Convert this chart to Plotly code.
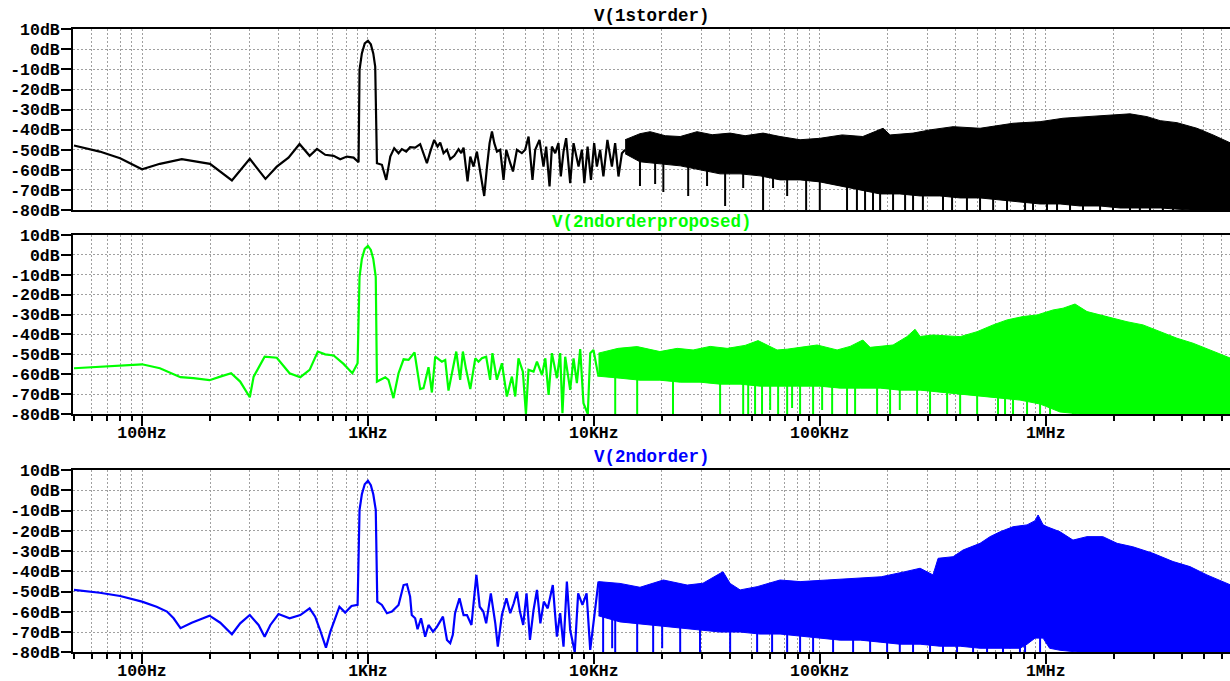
import math
import plotly.graph_objects as go

# ---------------- data (Hz, dB) ----------------
# Panel 1: V(1storder) - clean low-frequency trace
p1_line_f = [50, 65, 80, 100, 120, 150, 200, 250, 300, 352, 395, 445, 498, 552, 595, 647, 705, 754, 807, 864,
             909, 918, 940, 968, 1000, 1030, 1056, 1077, 1096, 1153, 1205, 1256, 1307, 1366, 1413, 1477, 1537, 1618,
             1703, 1762, 1824, 1888, 1965, 2033, 2089, 2161, 2238, 2313, 2411, 2518, 2588, 2650, 2760, 2838, 2934,
             3036, 3162, 3271, 3365, 3455, 3540, 3625, 3725, 3850, 3983, 4095, 4265, 4385, 4565, 4800, 4965, 5140,
             5350, 5500, 5745, 5985, 6150, 6365, 6520, 6745, 6970, 7140, 7340, 7540, 7855, 8130, 8555, 8850, 9075,
             9380, 9710, 10030, 10310, 10660, 11020, 11480, 12020, 12420, 12850, 13310, 13750]
p1_line_db = [-47.9, -50.9, -54.2, -59.7, -57.0, -54.7, -57.0, -65.3, -54.5, -64.5, -58.4, -53.9, -47.1, -53.0,
              -49.6, -52.5, -53.0, -54.7, -53.4, -53.9, -56.2, -10.2, -2.0, 3.0, 4.3, 2.5, -2.0, -8.6, -56.7, -57.5,
              -65.0, -53.4, -49.2, -51.7, -49.7, -50.9, -48.7, -48.9, -47.2, -51.7, -56.7, -50.9, -45.1, -48.4,
              -46.4, -51.7, -50.0, -54.7, -53.0, -49.7, -51.7, -48.9, -65.8, -53.4, -58.4, -50.9, -63.3, -73.0,
              -58.4, -46.7, -40.9, -46.7, -50.9, -50.0, -65.0, -50.0, -56.7, -60.8, -50.0, -51.7, -50.0, -43.4,
              -65.0, -50.0, -45.1, -58.4, -48.4, -68.3, -48.4, -51.7, -46.7, -63.3, -50.9, -44.2, -66.6, -46.7,
              -58.4, -50.0, -66.6, -48.4, -65.0, -46.7, -58.4, -50.0, -63.3, -45.1, -58.4, -46.7, -63.3, -51.7, -50.0]
# Panel 1: dense noise region (upper / lower envelope) and downward spikes
p1_hi_f = [13750, 16000, 17750, 20700, 24100, 28600, 33400, 40100, 46700, 56100, 66700, 81800, 100000, 125600,
           155000, 190600, 204700, 258700, 307600, 389000, 512000, 716600, 944000, 1193000, 1523000, 1985000,
           2360000, 2806000, 3210000, 3810000, 4670000, 5500000, 6600000]
p1_hi_db = [-45, -42, -41, -43, -43.4, -41, -42.5, -41.7, -43, -41.7, -43.4, -45, -44.3, -42.6, -43.4, -39.3,
            -42.6, -41.7, -40.1, -38.5, -39.3, -36.8, -36, -34.3, -33.5, -32.6, -32.1, -33.5, -35.5, -36.5, -39.3,
            -42.6, -46.7]
p1_lo_f = [13750, 16000, 19600, 24100, 29500, 36200, 44400, 54400, 66700, 81800, 100000, 123000, 151000, 185000,
           226000, 278000, 340000, 418000, 512000, 628000, 769000, 944000, 1157000, 1419000, 1740000, 2130000,
           3210000, 4350000, 6600000]
p1_lo_db = [-52, -56, -57, -58, -60, -62, -62, -63, -65, -65, -66, -68, -70, -72, -72, -73, -73, -74, -74, -75,
            -76, -77, -77, -78, -78, -79, -79, -80, -80]
p1_spike_f = [16000, 18670, 20300, 26150, 31700, 38100, 45800, 56100, 62100, 71700, 87000, 100000, 132000, 146000,
              158600, 172000, 184900, 211000, 238500, 258700, 286000, 351000, 385000, 448000, 512000, 585000,
              674000, 810000, 878600, 1013000, 1122000, 1281000, 1462000, 1740000, 1985000, 2360000, 2610000,
              2893000, 3300000, 3660000]
p1_spike_db = [-68, -67, -71, -73, -68, -78, -69, -80, -69, -73, -80, -80, -80, -80, -80, -80, -80, -80, -80, -80,
               -80, -80, -80, -80, -80, -80, -80, -80, -80, -80, -80, -80, -80, -80, -80, -80, -80, -80, -80, -80]

# Panel 2: V(2ndorderproposed)
p2_line_f = [50, 65, 80, 100, 120, 148, 169, 199, 222, 248, 272, 300, 312, 349, 395, 450, 502, 552, 600, 647, 705,
             780, 853, 900, 918, 940, 968, 1000, 1030, 1056, 1083, 1096, 1193, 1233, 1297, 1366, 1438, 1513, 1608,
             1703, 1762, 1854, 1919, 1985, 2125, 2198, 2273, 2460, 2560, 2632, 2721, 2838, 2986, 3086, 3193, 3337,
             3474, 3556, 3722, 3917, 4121, 4337, 4488, 4637, 4850, 5004, 5137, 5408, 5600, 5894, 6097, 6305, 6520,
             6860, 7095, 7260, 7465, 7855, 8130, 8410, 8700, 8995, 9400, 9635, 9960, 10480]
p2_line_db = [-57.0, -56.2, -55.5, -55.0, -57.0, -61.5, -62.0, -63.0, -61.2, -59.5, -63.7, -71.6, -61.2, -51.2,
              -51.7, -59.5, -61.5, -57.8, -48.6, -50.0, -50.6, -54.8, -59.5, -54.5, -11.0, -2.0, 3.0, 4.5, 2.5,
              -2.0, -11.0, -63.7, -61.5, -62.8, -72.0, -59.5, -52.5, -52.8, -49.1, -67.5, -67.0, -56.5, -69.2,
              -51.2, -53.7, -52.8, -68.2, -48.6, -62.8, -48.6, -57.8, -67.5, -52.0, -53.7, -52.0, -51.2, -62.8,
              -49.4, -62.8, -54.5, -71.2, -61.2, -71.2, -52.0, -58.7, -80.0, -57.8, -58.7, -53.7, -60.4, -52.0,
              -70.4, -49.4, -62.0, -49.4, -79.6, -51.2, -67.9, -52.0, -64.5, -47.4, -74.6, -80.0, -49.4, -47.8, -61.2]
p2_hi_f = [10480, 12800, 15550, 19600, 23400, 27500, 32700, 38900, 46700, 53300, 64700, 71700, 81800, 97300,
           119300, 136200, 155000, 167000, 211000, 243000, 264000, 278000, 317000, 418000, 497000, 585000, 674000,
           793000, 915000, 1077000, 1193000, 1348000, 1523000, 1867000, 2289000, 2695000, 3210000, 3810000,
           4486000, 5330000, 6600000]
p2_hi_db = [-49.4, -47, -46.1, -48.6, -47, -47.8, -46, -47, -45.5, -43.1, -47.8, -47.4, -46.5, -45.3, -47.8, -46,
            -42.8, -46.5, -45.3, -41.1, -37.4, -41, -40.3, -41.1, -38.6, -35.2, -32.7, -31, -30.2, -27.7, -26.8,
            -24.7, -28.5, -31, -33.6, -35.2, -38.6, -41.9, -44.4, -47.8, -52]
p2_lo_f = [10480, 13060, 16000, 19600, 24100, 29500, 36200, 44400, 54400, 66700, 81800, 100000, 123000, 151000,
           185000, 226000, 278000, 340000, 418000, 512000, 628000, 769000, 944000, 1157000, 1419000, 6600000]
p2_lo_db = [-61, -62, -63, -63, -64, -64, -65, -65, -66, -66, -66, -66, -67, -67, -67, -68, -68, -69, -70, -71,
            -72, -73, -75, -79, -80, -80]
p2_spike_f = [12430, 15550, 22400, 36200, 45800, 48200, 51700, 55500, 60300, 65400, 71700, 75400, 81800, 93400,
              102400, 113400, 132000, 143300, 179300, 204700, 226000, 269500, 307600, 366000, 418000, 497000,
              615000, 660600, 716600, 826700, 944000, 1045000, 1320000, 1620000, 1985000]
p2_spike_db = [-80, -80, -80, -80, -80, -80, -80, -80, -78, -80, -80, -77, -80, -80, -78, -80, -80, -80, -80, -80,
               -78, -80, -80, -80, -80, -80, -80, -80, -80, -80, -80, -80, -80, -80, -80]

# Panel 3: V(2ndorder)
p3_line_f = [50, 65, 80, 100, 116, 129, 138, 148, 166, 199, 222, 250, 272, 300, 328, 349, 370, 402, 450, 502, 552,
             584, 614, 652, 682, 748, 793, 846, 900, 918, 940, 968, 1000, 1030, 1056, 1083, 1100, 1153, 1214, 1277,
             1366, 1438, 1488, 1537, 1563, 1618, 1658, 1718, 1792, 1854, 1940, 2017, 2148, 2238, 2313, 2375, 2430,
             2542, 2650, 2745, 2872, 3020, 3124, 3241, 3337, 3499, 3662, 3757, 3917, 4101, 4265, 4420, 4565, 4707,
             4867, 5035, 5213, 5408, 5600, 5797, 6004, 6250, 6580, 6860, 7095, 7340, 7595, 7855, 8230, 8520, 8905,
             9285, 9635, 9960, 10480]
p3_line_db = [-49.2, -50.6, -52.2, -55.0, -57.5, -59.9, -63.2, -68.1, -65.4, -61.9, -65.4, -71.1, -65.7, -61.6,
              -66.5, -72.3, -66.5, -61.1, -63.2, -61.6, -58.3, -62.4, -69.0, -77.7, -69.8, -57.5, -60.4, -57.1,
              -56.6, -9.7, -2.0, 3.0, 4.7, 2.5, -2.0, -9.7, -55.0, -56.6, -60.7, -59.9, -56.6, -46.8, -46.4, -52.5,
              -61.6, -63.2, -68.6, -63.2, -72.3, -66.5, -69.8, -67.6, -62.4, -73.9, -75.5, -71.4, -60.7, -53.3,
              -61.6, -61.6, -66.5, -41.8, -57.5, -59.9, -65.7, -50.9, -65.7, -77.2, -61.6, -53.3, -60.7, -55.8,
              -50.1, -59.9, -66.5, -50.9, -73.9, -59.1, -49.2, -65.7, -55.0, -58.3, -46.8, -72.3, -60.7, -77.2,
              -45.1, -69.0, -80.0, -50.9, -56.6, -50.9, -78.8, -65.7, -45.1]
p3_hi_f = [10480, 13060, 16000, 20300, 25900, 30400, 37300, 40100, 44400, 52800, 66700, 81800, 107700, 140400,
           187000, 238500, 278000, 317000, 333900, 389000, 430500, 512000, 567000, 628000, 716600, 826700, 897000,
           925000, 973000, 1013000, 1157000, 1320000, 1523000, 1790000, 2070000, 2430000, 2980000, 3660000,
           4350000, 5170000, 6600000]
p3_hi_db = [-45.1, -46, -47.9, -44.3, -46.8, -45.9, -40.2, -46, -49.2, -47.6, -44.3, -45.1, -44.3, -43.5, -42.7,
            -40.2, -38.5, -41.8, -33.6, -32.8, -29.5, -26.2, -22.9, -20.5, -18, -17.1, -15, -12.2, -17, -18, -20.5,
            -24.6, -22.9, -22.9, -26.2, -27.9, -31.1, -35.2, -37.7, -41.8, -46.8]
p3_lo_f = [10480, 13060, 16000, 19600, 24100, 29500, 36200, 44400, 54400, 66700, 81800, 100000, 123000, 151000,
           185000, 226000, 278000, 340000, 418000, 512000, 628000, 769000, 826700, 897000, 973000, 1040000,
           1157000, 1419000, 6600000]
p3_lo_db = [-62, -65, -66, -67, -68, -69, -70, -70, -71, -71, -72, -73, -74, -74, -75, -76, -76, -77, -77, -78,
            -78, -78, -76, -73, -73, -78, -79, -80, -80]
p3_spike_f = [10990, 12050, 12430, 15550, 18300, 20060, 24100, 29500, 40100, 52800, 61500, 71700, 81800, 93400,
              114500, 140400, 167000, 198600, 226000, 258700, 307600, 351000, 405000, 476900, 550000, 647000,
              695000, 769000, 810000, 944000]
p3_spike_db = [-80, -78, -80, -80, -80, -78, -80, -80, -80, -80, -80, -80, -80, -80, -80, -80, -80, -80, -80, -80,
               -80, -80, -80, -80, -80, -80, -78, -80, -80, -80]

# axis ticks
x_major_vals = [100, 1000, 10000, 100000, 1000000]
x_major_text = ["100Hz", "1KHz", "10KHz", "100KHz", "1MHz"]
y_tick_vals = [10, 0, -10, -20, -30, -40, -50, -60, -70, -80]
y_tick_text = ["10dB", "0dB", "-10dB", "-20dB", "-30dB", "-40dB", "-50dB", "-60dB", "-70dB", "-80dB"]
titles = ["V(1storder)", "V(2ndorderproposed)", "V(2ndorder)"]
colors = ["#000000", "#00ff00", "#0000ff"]

# ---------------- figure ----------------
W, H = 1230, 681
FONT = "Liberation Mono"
x_min_hz, x_max_hz = 49.5, 6.54e6
minor_vals = [m * 10 ** d for d in range(1, 7) for m in range(2, 10) if x_min_hz <= m * 10 ** d <= x_max_hz]

# vertical pixel extents (top, bottom) of each plot area and title row
panel_px = [(29.3, 210.0), (235.0, 414.0), (470.0, 652.3)]
title_px = [16, 222, 457]

panels = [
    (p1_line_f, p1_line_db, p1_hi_f, p1_hi_db, p1_lo_f, p1_lo_db, p1_spike_f, p1_spike_db),
    (p2_line_f, p2_line_db, p2_hi_f, p2_hi_db, p2_lo_f, p2_lo_db, p2_spike_f, p2_spike_db),
    (p3_line_f, p3_line_db, p3_hi_f, p3_hi_db, p3_lo_f, p3_lo_db, p3_spike_f, p3_spike_db),
]

fig = go.Figure()
grid_color = "#a0a0a0"
layout = dict(
    width=W, height=H, margin=dict(l=73, r=0, t=0, b=0, autoexpand=False),
    paper_bgcolor="white", plot_bgcolor="white", showlegend=False,
    font=dict(family=FONT, size=16, color="black"),
)
annotations = []
for i, (lf, ldb, hf, hdb, lof, lodb, sf, sdb) in enumerate(panels):
    n = "" if i == 0 else str(i + 1)
    xa, ya = "x" + n, "y" + n
    col = colors[i]
    # dense band
    fig.add_trace(go.Scatter(x=hf + lof[::-1], y=hdb + lodb[::-1], fill="toself", fillcolor=col,
                             mode="lines", line=dict(color=col, width=1), xaxis=xa, yaxis=ya,
                             hoverinfo="skip"))
    # downward spikes
    sx, sy = [], []
    for f, t in zip(sf, sdb):
        sx += [f, f, None]
        sy += [-50, t, None]
    fig.add_trace(go.Scatter(x=sx, y=sy, mode="lines", line=dict(color=col, width=2),
                             xaxis=xa, yaxis=ya, hoverinfo="skip"))
    # low-frequency trace
    fig.add_trace(go.Scatter(x=lf, y=ldb, mode="lines", line=dict(color=col, width=2.2),
                             xaxis=xa, yaxis=ya))

    top, bot = panel_px[i]
    show_x = i > 0
    layout["xaxis" + n] = dict(
        type="log", range=[math.log10(x_min_hz), math.log10(x_max_hz)], domain=[0, 1], anchor=ya,
        automargin=False,
        showline=True, linecolor="black", linewidth=2, mirror=True,
        showgrid=True, gridcolor=grid_color, griddash="2px,2px", gridwidth=1,
        tickmode="array", tickvals=x_major_vals, ticktext=x_major_text,
        ticks="outside" if show_x else "", ticklen=10, tickwidth=2, tickcolor="black",
        ticklabelstandoff=-8,
        showticklabels=show_x, tickfont=dict(family=FONT, size=16.5, color="black", weight="bold"),
        minor=dict(tickvals=minor_vals, ticks="outside" if show_x else "", ticklen=5, tickwidth=1.5,
                   tickcolor="black", showgrid=True, gridcolor=grid_color, griddash="2px,2px", gridwidth=1),
        zeroline=False, fixedrange=True,
    )
    layout["yaxis" + n] = dict(
        range=[-80, 10], domain=[1 - bot / H, 1 - top / H], anchor=xa,
        automargin=False,
        showline=True, linecolor="black", linewidth=2, mirror=False,
        showgrid=True, gridcolor=grid_color, griddash="2px,2px", gridwidth=1,
        tickmode="array", tickvals=y_tick_vals, ticktext=y_tick_text,
        ticks="outside", ticklen=10, tickwidth=2, tickcolor="black", ticklabelstandoff=-2,
        tickfont=dict(family=FONT, size=16.5, color="black", weight="bold"),
        zeroline=False, fixedrange=True,
    )
    annotations.append(dict(text=titles[i], x=0.5, xref="paper", y=1 - title_px[i] / H, yref="paper",
                            xanchor="center", yanchor="middle", showarrow=False,
                            font=dict(family=FONT, size=17.5, color=col, weight="bold")))

layout["annotations"] = annotations
fig.update_layout(**layout)
fig.write_html("out.html")
